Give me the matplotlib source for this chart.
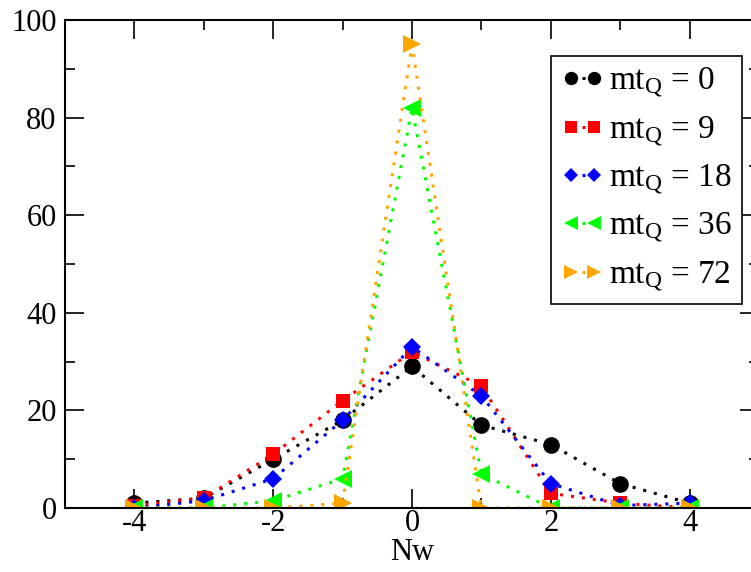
import matplotlib
matplotlib.use("Agg")
import matplotlib.pyplot as plt
from matplotlib.ticker import MultipleLocator

plt.rcParams['font.family'] = ['Liberation Serif', 'DejaVu Serif']
plt.rcParams['mathtext.fontset'] = 'custom'
plt.rcParams['mathtext.rm'] = 'Liberation Serif'
plt.rcParams['mathtext.it'] = 'Liberation Serif:italic'
plt.rcParams['axes.unicode_minus'] = False

# Datos
nw = [-4, -3, -2, -1, 0, 1, 2, 3, 4]
mt0 = [1, 2, 10, 18, 29, 17, 13, 5, 1]
mt9 = [0.5, 2, 11, 22, 32, 25, 3, 1, 0]
mt18 = [0, 1.5, 6, 18, 33, 23, 5, 0.5, 1]
mt36 = [0, 0, 1.5, 6, 82, 7, 0, 0, 0]
mt72 = [0, 0, 0, 1, 95, 0, 0, 0, 0]

labels = ['0', '9', '18', '36', '72']
series = [mt0, mt9, mt18, mt36, mt72]
colors = ['black', 'red', 'blue', '#00ff00', '#ffa500']
markers = ['o', 's', 'D', '<', '>']
msizes = [12, 10.5, 9, 12.5, 12.5]

fig = plt.figure(figsize=(7.51, 5.72), dpi=100)
ax = fig.add_axes([65 / 751, 1 - 508 / 572, (759 - 65) / 751, (508 - 20) / 572])

for ys, lab, c, m, ms in zip(series, labels, colors, markers, msizes):
    ax.plot(nw, ys, linestyle=(0, (1, 2.6)), linewidth=2.2, color=c, marker=m,
            markersize=ms, markeredgewidth=0, label=r'mt$_\mathrm{Q}$ = ' + lab)

ax.set_xlim(-5, 5)
ax.set_ylim(0, 100)
ax.xaxis.set_major_locator(MultipleLocator(2))
ax.xaxis.set_minor_locator(MultipleLocator(1))
ax.yaxis.set_major_locator(MultipleLocator(20))
ax.yaxis.set_minor_locator(MultipleLocator(10))
ax.tick_params(which='both', direction='in', top=True, right=True,
               labelsize=22, width=1.2, pad=6)
ax.tick_params(axis='x', which='major', pad=1)
ax.tick_params(which='major', length=14)
ax.tick_params(which='minor', length=7)
for sp in ax.spines.values():
    sp.set_linewidth(1.5)

ax.set_xlabel('Nw', fontsize=22, labelpad=0)

leg = ax.legend(loc='upper right', bbox_to_anchor=(742 / 751, 1 - 56 / 572),
                bbox_transform=fig.transFigure, borderaxespad=0, fontsize=24,
                numpoints=2, markerscale=0.8, handlelength=1.3, handletextpad=0.15,
                labelspacing=0.42, borderpad=0.3, fancybox=False,
                framealpha=1, edgecolor='black')
leg.get_frame().set_linewidth(1.2)

fig.savefig('out.png', dpi=100)
